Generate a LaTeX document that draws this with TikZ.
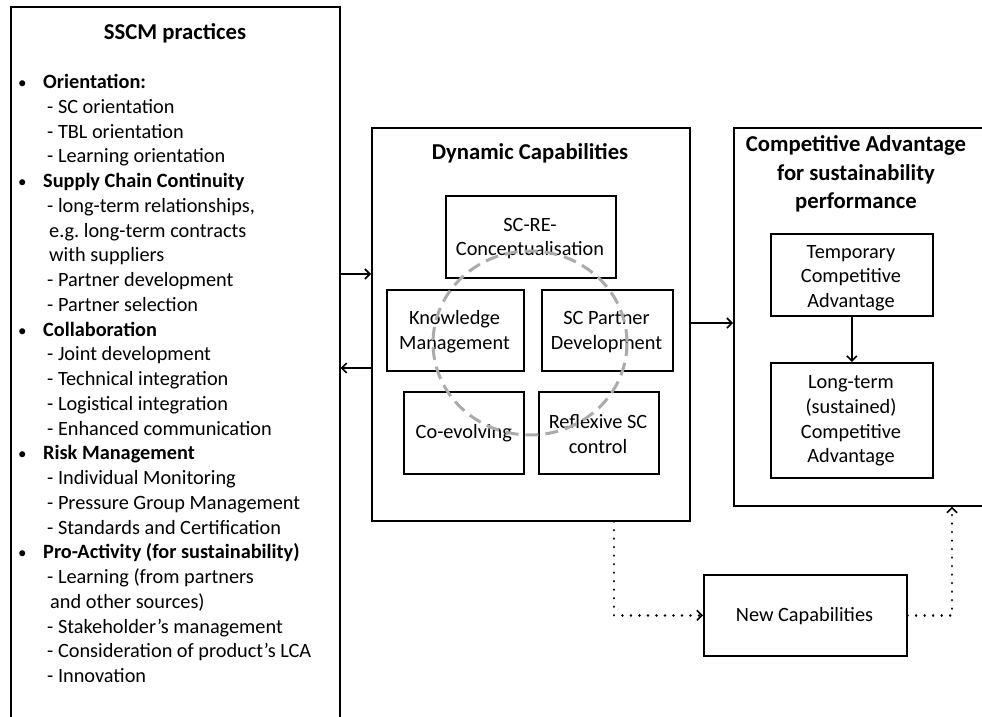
\documentclass[tikz,border=0pt]{standalone}
\usepackage{fontspec}
\setmainfont{Carlito}
\usetikzlibrary{arrows.meta}
\frenchspacing
\begin{document}
\begin{tikzpicture}[x=1pt,y=-1pt,
  frame/.style={draw, line width=1.6pt, inner sep=0pt, anchor=north west},
  inbox/.style={draw, line width=1.6pt, inner sep=0pt, anchor=north west, align=center,
     font=\fontsize{20.3}{24.7}\selectfont},
  intext/.style={inner sep=0pt, align=center, font=\fontsize{20.3}{24.7}\selectfont},
  li/.style={anchor=base west, inner sep=0pt, font=\fontsize{20.3}{24}\selectfont},
  hd/.style={anchor=base west, inner sep=0pt, font=\fontsize{20.3}{24}\selectfont\bfseries},
  bul/.style={anchor=base west, inner sep=0pt, font=\fontsize{17}{24}\selectfont},
  ttl/.style={anchor=center, inner sep=0pt, align=center, font=\fontsize{22.7}{28.7}\selectfont\bfseries},
  arr/.style={line width=1.6pt, -{Straight Barb[length=5pt,width=10pt,line width=1.6pt]}},
  dotarr/.style={line width=2.6pt, dash pattern=on 0.01pt off 8.5pt, line cap=round,
     -{Straight Barb[length=5pt,width=10pt,line width=1.6pt]}},
  cyc/.style={draw=black!33, line width=3pt, dash pattern=on 13pt off 7pt}
]
\useasboundingbox (0,0) rectangle (982,717);

% left box
\node[frame, minimum width=329pt, minimum height=740pt] (sscm) at (10,6) {};
\node[ttl, anchor=base] (sscmt) at (175,40) {SSCM practices};

\node[bul] (b1) at (18,88.5) {•};
\node[bul] (b2) at (18,187.5) {•};
\node[bul] (b3) at (18,336) {•};
\node[bul] (b4) at (18,459.75) {•};
\node[bul] (b5) at (18,558.75) {•};

\node[hd] (l1) at (43,88.5) {Orientation:};
\node[li] (l2) at (47,113.25) {- SC orientation};
\node[li] (l3) at (47,138) {- TBL orientation};
\node[li] (l4) at (47,162.75) {- Learning orientation};
\node[hd] (l5) at (43,187.5) {Supply Chain Continuity};
\node[li] (l6) at (47,212.25) {- long-term relationships,};
\node[li] (l7) at (49,237) {e.g. long-term contracts};
\node[li] (l8) at (49,261.75) {with suppliers};
\node[li] (l9) at (47,286.5) {- Partner development};
\node[li] (l10) at (47,311.25) {- Partner selection};
\node[hd] (l11) at (43,336) {Collaboration};
\node[li] (l12) at (47,360.75) {- Joint development};
\node[li] (l13) at (47,385.5) {- Technical integration};
\node[li] (l14) at (47,410.25) {- Logistical integration};
\node[li] (l15) at (47,435) {- Enhanced communication};
\node[hd] (l16) at (43,459.75) {Risk Management};
\node[li] (l17) at (47,484.5) {- Individual Monitoring};
\node[li] (l18) at (47,509.25) {- Pressure Group Management};
\node[li] (l19) at (47,534) {- Standards and Certification};
\node[hd] (l20) at (43,558.75) {Pro-Activity (for sustainability)};
\node[li] (l21) at (47,583.5) {- Learning (from partners};
\node[li] (l22) at (50,608.25) {and other sources)};
\node[li] (l23) at (47,633) {- Stakeholder’s management};
\node[li] (l24) at (47,657.75) {- Consideration of product’s LCA};
\node[li] (l25) at (47,682.5) {- Innovation};

% dynamic capabilities
\node[frame, minimum width=318pt, minimum height=393pt] (dc) at (371,127) {};
\node[ttl] (dct) at (530,153) {Dynamic Capabilities};
\node[inbox, minimum width=170pt, minimum height=82pt] (scre) at (445,195) {};
\node[intext] (scret) at (530,238.5) {SC-RE-\\Conceptualisation};
\node[inbox, minimum width=137pt, minimum height=81pt] (km) at (386,289) {};
\node[intext] (kmt) at (454.5,332) {Knowledge\\Management};
\node[inbox, minimum width=131pt, minimum height=81pt] (scp) at (541,289) {};
\node[intext] (scpt) at (606.5,332) {SC Partner\\Development};
\node[inbox, minimum width=120pt, minimum height=82pt] (coev) at (403,391) {Co-evolving};
\node[inbox, minimum width=120pt, minimum height=82pt] (refl) at (538,391) {};
\node[intext] (reflt) at (598,434) {Reflexive SC\\control};
\draw[cyc] (530,343) ellipse [x radius=97, y radius=92];

% competitive advantage
\node[frame, minimum width=252pt, minimum height=378pt] (ca) at (733,127) {};
\node[ttl] (cat) at (856,174) {Competitive Advantage\\for sustainability\\performance};
\node[inbox, minimum width=162pt, minimum height=82pt] (temp) at (770,233) {};
\node[intext] (tempt) at (851,278) {Temporary\\Competitive\\Advantage};
\node[inbox, minimum width=162pt, minimum height=115pt] (long) at (770,362) {};
\node[intext] (longt) at (851,421) {Long-term\\(sustained)\\Competitive\\Advantage};

% new capabilities
\node[inbox, minimum width=203pt, minimum height=81pt] (newc) at (703,574) {};
\node[intext] (newct) at (804.5,616) {New Capabilities};

% connectors
\coordinate (ya) at (0,274);
\coordinate (yb) at (0,368);
\coordinate (yc) at (0,323);
\coordinate (xd) at (614,0);
\coordinate (xe) at (952,0);
\draw[arr] (sscm.east |- ya) -- (dc.west |- ya);
\draw[arr] (dc.west |- yb) -- (sscm.east |- yb);
\draw[arr] (dc.east |- yc) -- (ca.west |- yc);
\draw[arr] (temp.south) -- (long.north);
\draw[dotarr] (xd |- dc.south) -- (xd |- newc.west) -- (newc.west);
\draw[dotarr] (newc.east) -- (xe |- newc.east) -- (xe |- ca.south);
\end{tikzpicture}
\end{document}
